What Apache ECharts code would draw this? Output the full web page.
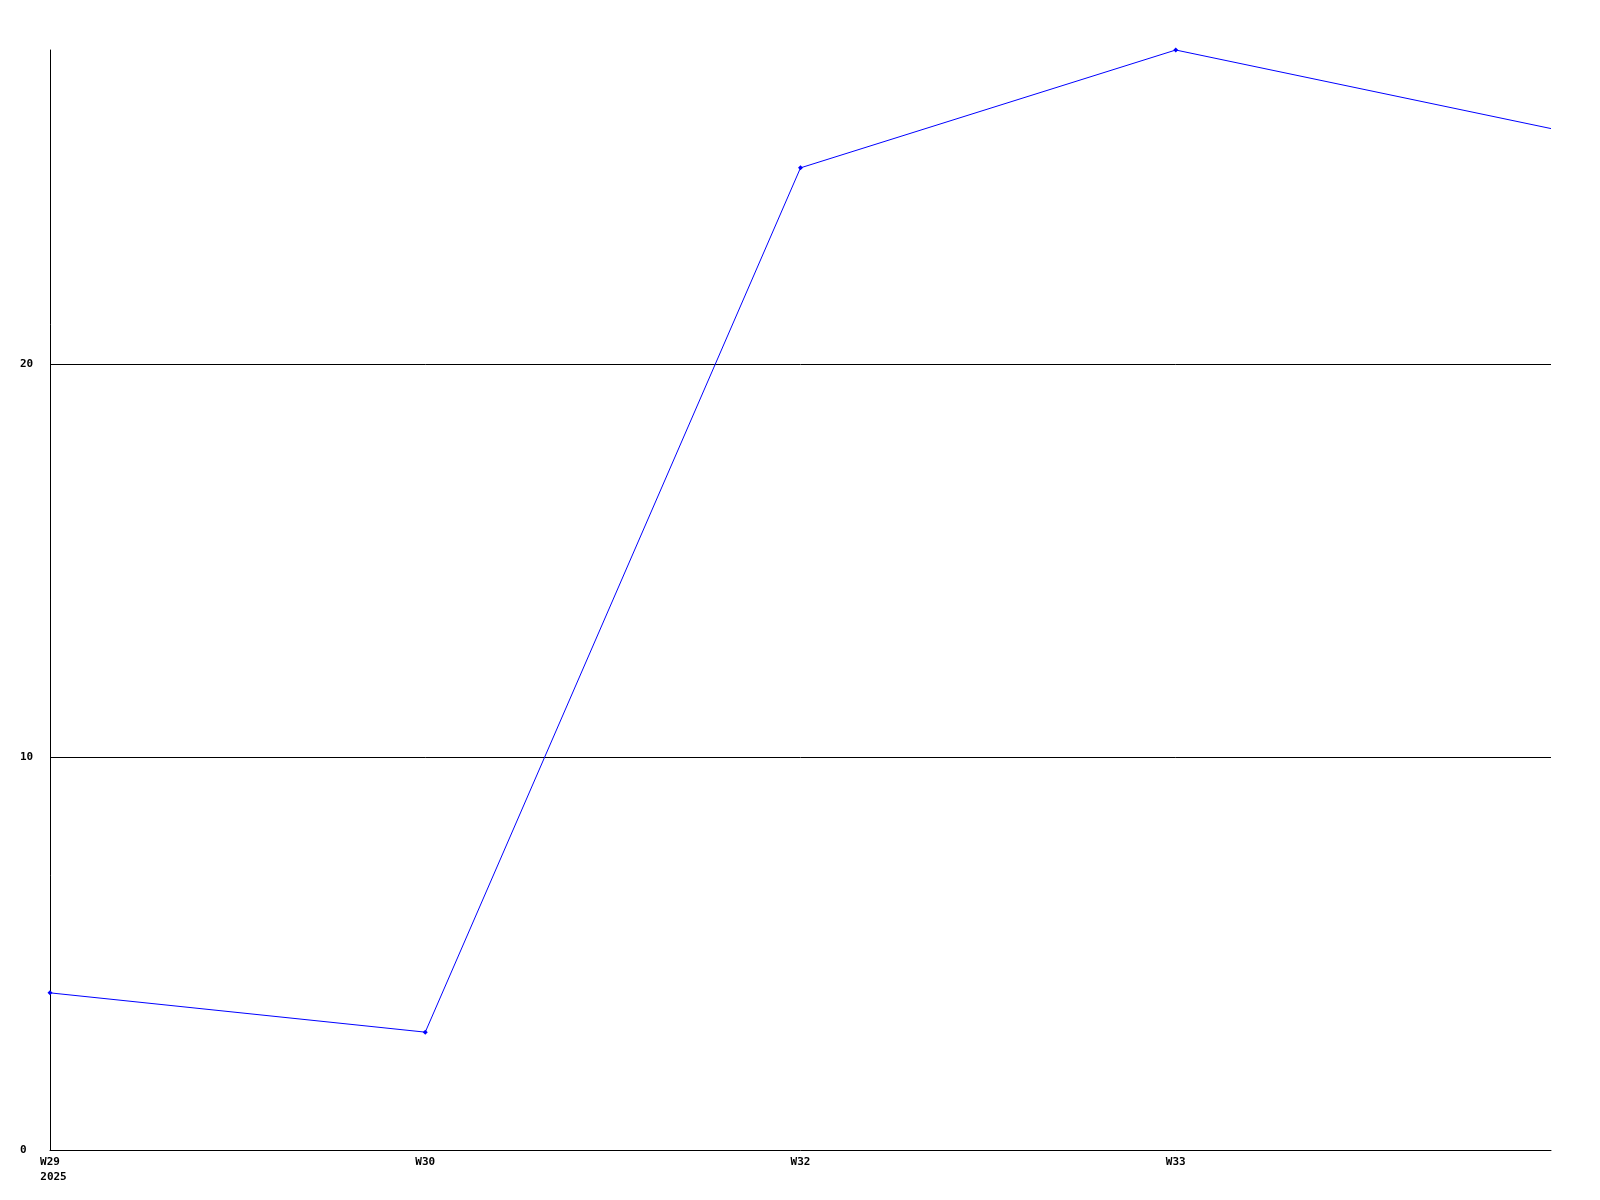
<!DOCTYPE html>
<html>
<head>
<meta charset="utf-8">
<script src="https://cdn.jsdelivr.net/npm/echarts@6/dist/echarts.min.js"></script>
<style>html,body{margin:0;padding:0;background:#fff}#c{width:1600px;height:1200px}</style>
</head>
<body>
<div id="c"></div>
<script>
const categories = ['W29', 'W30', 'W32', 'W33', 'W34'];
const firstYear = '2025';
const values = [4, 3, 25, 28, 26];
const yTicks = [0, 10, 20];

const FONT = 'DejaVu Sans Mono';
const chart = echarts.init(document.getElementById('c'), null, {renderer: 'canvas'});
const seriesData = values.map((v, i) => i === values.length - 1 ? {value: v, symbol: 'none'} : v);
chart.setOption({
  animation: false,
  backgroundColor: '#fff',
  grid: {left: 50, top: 50, right: 49, bottom: 50, containLabel: false},
  xAxis: {
    type: 'category',
    data: categories,
    boundaryGap: false,
    axisLine: {show: true, lineStyle: {color: '#000', width: 1}},
    axisTick: {show: false},
    splitLine: {show: false},
    axisLabel: {
      interval: 0,
      showMaxLabel: false,
      margin: 5,
      color: '#000',
      fontFamily: FONT,
      fontWeight: 'bold',
      fontSize: 11,
      lineHeight: 15,
      formatter: function (v, i) {
        if (i === categories.length - 1) return '';
        if (i === 0) return '{a|' + v + '}\n{b|' + firstYear + '}';
        return '{a|' + v + '}';
      },
      rich: {
        a: {fontFamily: FONT, fontWeight: 'bold', fontSize: 11, lineHeight: 15, color: '#000'},
        b: {fontFamily: FONT, fontWeight: 'bold', fontSize: 11, lineHeight: 15, color: '#000', padding: [0, 0, 0, 7]}
      }
    }
  },
  yAxis: {
    type: 'value',
    min: yTicks[0],
    max: 28,
    interval: yTicks[1] - yTicks[0],
    axisLine: {show: true, lineStyle: {color: '#000', width: 1}},
    axisTick: {show: false},
    splitLine: {show: true, showMinLine: false, showMaxLine: false, lineStyle: {color: '#000', width: 1}},
    axisLabel: {
      showMaxLabel: false,
      margin: 30,
      align: 'left',
      color: '#000',
      fontFamily: FONT,
      fontWeight: 'bold',
      fontSize: 11
    }
  },
  series: [{
    type: 'line',
    data: seriesData,
    symbol: 'diamond',
    symbolSize: 5,
    showAllSymbol: true,
    lineStyle: {color: '#0000ff', width: 1},
    itemStyle: {color: '#0000ff'},
    emphasis: {disabled: true}
  }]
});
</script>
</body>
</html>
